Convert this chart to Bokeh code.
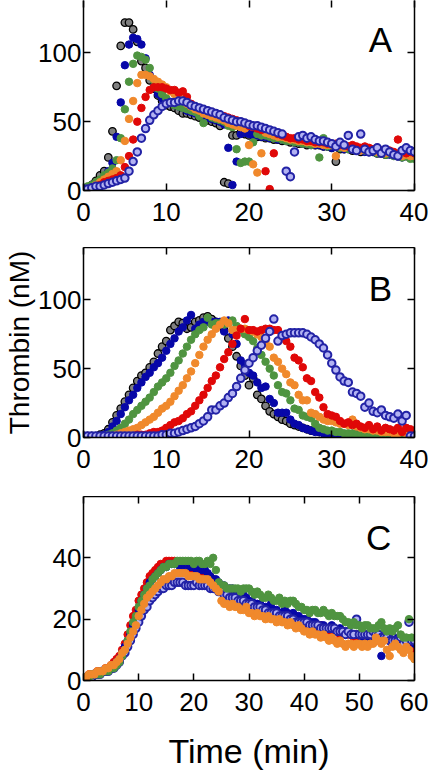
from bokeh.plotting import figure
from bokeh.layouts import column
from bokeh.models import LinearAxis, Range1d, FixedTicker, Label
from bokeh.embed import file_html
from bokeh.resources import INLINE

STEP = 0.5  # sampling interval (min)

# ---------------- Panel A (Thrombin nM, t = 0..40 min) ----------------
a_black = [1, 2, 4, 7, 11, 14, 24, 43, 76, 105,
           122, 122, 117, 108, 94, 89, 80, 74, 69, 65,
           62, 61, 60, 58, 56, 56, 55, 54, 53, 52,
           51, 50, 49, 47, 6, 5, 40, 40, 42, 41,
           40, 40, 39, 39, 38, 38, 37, 37, 36, 36,
           35, 35, 34, 34, 33, 34, 33, 33, 32, 32,
           31, 21, 30, 30, 31, 29, 30, 28, 29, 28,
           28, 27, 27, 26, 27, 26, 25, 26, 25, 26,
           25]
a_blue = [1, 2, 3, 5, 7, 10, 14, 20, 39, 64,
          91, 106, 111, 110, 106, 96, 84, 75, 70, 67,
          66, 64, 62, 61, 60, 58, 57, 56, 55, 54,
          53, 52, 51, 50, 48, 31, 4, 21, 41, 42,
          41, 40, 40, 39, 39, 38, 38, 37, 37, 36,
          36, 35, 35, 34, 34, 33, 33, 33, 32, 32,
          31, 33, 31, 30, 30, 31, 29, 30, 28, 29,
          28, 27, 28, 27, 26, 27, 25, 24, 26, 25,
          24]
a_green = [1, 3, 4, 6, 8, 11, 13, 16, 22, 38,
           59, 79, 92, 98, 97, 95, 89, 80, 74, 70,
           67, 64, 62, 61, 60, 59, 58, 57, 54, 49,
           55, 53, 52, 51, 50, 47, 46, 30, 20, 21,
           21, 35, 41, 40, 40, 39, 38, 38, 37, 36,
           36, 35, 35, 34, 34, 33, 34, 24, 38, 32,
           33, 32, 31, 32, 30, 31, 29, 30, 29, 28,
           29, 27, 28, 26, 27, 25, 26, 24, 25, 23,
           23]
a_orange = [1, 1, 2, 4, 6, 8, 10, 12, 14, 22,
            36, 52, 65, 78, 84, 84, 83, 81, 79, 77,
            75, 72, 70, 68, 66, 63, 61, 59, 58, 56,
            55, 54, 53, 52, 51, 49, 48, 47, 46, 45,
            33, 19, 13, 27, 42, 41, 40, 39, 39, 38,
            37, 37, 36, 36, 35, 35, 34, 34, 33, 33,
            33, 25, 32, 31, 32, 30, 31, 29, 30, 29,
            30, 28, 29, 27, 28, 26, 27, 25, 26, 25,
            25]
a_red = [1, 1, 2, 3, 4, 6, 7, 8, 9, 11,
         17, 25, 37, 50, 60, 68, 73, 75, 75, 75,
         74, 73, 73, 71, 72, 68, 63, 61, 60, 59,
         58, 57, 56, 55, 54, 53, 52, 51, 50, 49,
         47, 46, 45, 44, 14, 1, 27, 41, 40, 39,
         38, 38, 37, 37, 36, 36, 35, 35, 35, 34,
         34, 34, 33, 33, 32, 33, 32, 31, 32, 31,
         30, 31, 29, 30, 29, 28, 37, 29, 27, 28,
         27]
a_purple = [1, 1, 2, 3, 3, 4, 5, 6, 7, 8,
            9, 14, 21, 28, 38, 45, 51, 55, 58, 61,
            63, 64, 64, 65, 65, 64, 62, 61, 60, 59,
            58, 57, 56, 55, 53, 52, 51, 50, 50, 49,
            48, 47, 47, 46, 45, 44, 43, 42, 41, 14,
            10, 28, 39, 40, 38, 39, 37, 36, 36, 35,
            34, 32, 35, 33, 40, 30, 29, 41, 30, 28,
            29, 31, 27, 30, 28, 26, 25, 29, 31, 29,
            28]

# ---------------- Panel B ----------------
b_black = [1, 1, 1, 1, 2, 3, 6, 11, 16, 21,
           26, 31, 36, 41, 45, 47, 51, 55, 61, 66,
           70, 78, 81, 84, 83, 79, 80, 84, 85, 87,
           88, 86, 84, 82, 78, 72, 66, 59, 52, 45,
           38, 43, 31, 28, 23, 19, 17, 15, 13, 12,
           10, 9, 8, 7, 6, 5, 5, 4, 4, 3,
           3, 2, 2, 2, 2, 1, 2, 1, 1, 1,
           1, 1, 1, 1, 1, 1, 1, 1, 1, 1,
           1]
b_blue = [1, 1, 1, 1, 1, 2, 4, 8, 12, 17,
          22, 27, 31, 36, 40, 44, 47, 51, 54, 58,
          63, 68, 72, 77, 80, 85, 89, 79, 82, 84,
          84, 84, 84, 84, 77, 85, 75, 68, 56, 53,
          47, 45, 40, 36, 37, 28, 25, 18, 18, 18,
          13, 10, 9, 7, 6, 5, 4, 4, 3, 2,
          1, 1, 2, 1, 1, 1, 1, 1, 1, 1,
          1, 1, 1, 1, 1, 1, 1, 1, 1, 1,
          1]
b_green = [1, 1, 1, 1, 1, 1, 2, 3, 5, 7,
           10, 13, 17, 20, 23, 26, 29, 33, 37, 40,
           43, 47, 52, 56, 61, 66, 71, 75, 78, 80,
           87, 82, 83, 83, 82, 83, 85, 81, 78, 75,
           73, 70, 65, 60, 55, 50, 45, 38, 33, 32,
           27, 21, 20, 16, 15, 14, 10, 7, 6, 5,
           5, 4, 4, 3, 3, 3, 2, 2, 2, 2,
           2, 1, 2, 1, 1, 1, 1, 1, 1, 1,
           1]
b_orange = [1, 1, 1, 1, 1, 1, 1, 1, 2, 3,
            4, 5, 6, 7, 9, 11, 13, 15, 18, 21,
            23, 26, 30, 34, 38, 43, 48, 54, 60, 66,
            71, 75, 79, 82, 85, 83, 78, 78, 79, 79,
            78, 77, 75, 73, 70, 66, 58, 55, 50, 46,
            40, 38, 31, 27, 27, 18, 17, 15, 13, 12,
            12, 11, 10, 10, 9, 13, 8, 7, 6, 6,
            5, 5, 4, 4, 4, 3, 3, 4, 3, 3,
            3]
b_red = [1, 1, 1, 1, 1, 1, 1, 1, 1, 1,
         1, 1, 1, 2, 2, 2, 3, 4, 4, 5,
         7, 9, 11, 12, 14, 17, 19, 23, 27, 31,
         36, 41, 45, 51, 57, 62, 68, 74, 79, 86,
         78, 78, 77, 78, 79, 79, 78, 78, 74, 70,
         66, 58, 56, 51, 43, 41, 33, 29, 22, 17,
         16, 15, 12, 10, 11, 9, 10, 8, 7, 9,
         6, 8, 5, 7, 6, 5, 7, 4, 7, 6,
         5]
b_purple = [1, 1, 1, 1, 1, 1, 1, 1, 1, 1,
            1, 1, 1, 1, 1, 1, 1, 1, 1, 2,
            2, 3, 3, 4, 5, 6, 7, 8, 10, 12,
            15, 20, 20, 23, 25, 29, 32, 37, 43, 49,
            54, 58, 63, 67, 72, 77, 86, 70, 74, 75,
            76, 76, 76, 76, 75, 73, 71, 68, 65, 60,
            54, 49, 44, 41, 40, 33, 32, 30, 22, 25,
            19, 18, 20, 16, 15, 14, 17, 12, 16, 1,
            1]

# ---------------- Panel C (t = 0..60 min) ----------------
c_red = [1, 1, 2, 2, 2, 3, 3, 3, 4, 4, 5, 6,
         7, 8, 10, 12, 15, 18, 21, 23, 26, 28, 30, 32,
         34, 35, 36, 37, 38, 38, 39, 39, 39, 39, 38, 38,
         37, 37, 37, 36, 37, 36, 36, 35, 35, 34, 33, 33,
         32, 31, 30, 29, 29, 28, 28, 27, 27, 26, 26, 25,
         25, 25, 24, 24, 24, 23, 23, 23, 22, 22, 22, 21,
         21, 21, 20, 21, 20, 20, 19, 19, 19, 18, 18, 18,
         18, 17, 18, 17, 17, 16, 17, 16, 16, 15, 16, 15,
         15, 15, 14, 15, 14, 14, 15, 14, 13, 14, 13, 14,
         13, 14, 15, 13, 12, 13, 12, 13, 12, 12, 11, 11,
         10]
c_blue = [1, 1, 1, 2, 2, 2, 3, 3, 3, 4, 4, 5,
          6, 7, 9, 11, 13, 15, 18, 20, 23, 26, 28, 30,
          32, 33, 34, 35, 36, 37, 37, 38, 38, 38, 38, 37,
          37, 37, 37, 37, 37, 36, 37, 36, 36, 35, 34, 33,
          33, 32, 31, 31, 30, 30, 30, 29, 28, 28, 28, 27,
          26, 26, 25, 25, 25, 24, 24, 23, 25, 23, 23, 22,
          22, 23, 22, 21, 22, 21, 21, 20, 20, 20, 19, 19,
          19, 18, 18, 18, 17, 17, 18, 17, 16, 17, 16, 16,
          16, 15, 15, 15, 15, 14, 15, 14, 14, 15, 14, 15,
          8, 14, 15, 14, 12, 13, 14, 13, 13, 12, 13, 13,
          12]
c_green = [1, 1, 1, 2, 2, 2, 2, 3, 3, 3, 4, 4,
           5, 6, 8, 10, 13, 16, 19, 21, 24, 26, 28, 30,
           31, 33, 34, 35, 36, 37, 37, 38, 38, 38, 39, 39,
           39, 39, 39, 39, 38, 39, 39, 38, 38, 39, 38, 40,
           36, 32, 31, 31, 30, 30, 30, 30, 30, 29, 30, 30,
           30, 29, 28, 29, 28, 27, 27, 28, 27, 26, 26, 27,
           25, 26, 25, 26, 26, 25, 24, 24, 23, 23, 22, 23,
           23, 22, 22, 23, 22, 21, 22, 21, 21, 21, 20, 19,
           19, 18, 19, 18, 18, 17, 18, 18, 17, 17, 17, 18,
           19, 17, 16, 17, 16, 17, 18, 15, 14, 14, 20, 14,
           7]
c_orange = [1, 1, 2, 2, 2, 3, 3, 3, 4, 4, 5, 5,
            6, 7, 9, 10, 12, 14, 16, 18, 21, 23, 25, 27,
            28, 29, 30, 31, 32, 33, 33, 34, 34, 35, 35, 35,
            35, 35, 34, 34, 34, 34, 33, 33, 33, 33, 32, 31,
            30, 29, 26, 25, 25, 24, 25, 24, 24, 23, 23, 24,
            22, 22, 21, 22, 21, 21, 20, 21, 20, 20, 19, 20,
            19, 19, 18, 19, 18, 17, 18, 17, 16, 16, 15, 16,
            15, 15, 14, 15, 14, 13, 14, 13, 12, 13, 12, 11,
            12, 12, 11, 12, 12, 11, 12, 11, 12, 12, 14, 13,
            12, 13, 10, 8, 11, 12, 11, 10, 9, 11, 10, 8,
            7]
c_purple = [1, 1, 1, 1, 2, 2, 2, 3, 3, 3, 4, 4,
            5, 6, 8, 9, 11, 13, 15, 17, 19, 21, 23, 24,
            26, 27, 28, 29, 30, 30, 31, 31, 31, 32, 32, 32,
            32, 31, 31, 31, 31, 32, 31, 31, 31, 31, 30, 30,
            30, 29, 29, 28, 28, 27, 27, 27, 26, 26, 26, 25,
            25, 25, 24, 24, 24, 23, 23, 22, 22, 22, 22, 21,
            21, 21, 21, 20, 20, 19, 19, 19, 19, 19, 18, 18,
            18, 18, 17, 17, 17, 17, 17, 17, 16, 16, 16, 15,
            16, 15, 15, 20, 15, 15, 15, 15, 15, 16, 15, 15,
            14, 14, 14, 13, 13, 13, 13, 14, 12, 13, 19, 13,
            13]

xticks_ab = [0, 10, 20, 30, 40]
xticks_c = [0, 10, 20, 30, 40, 50, 60]
yticks_ab = [0, 50, 100]
yticks_c = [0, 20, 40]

STYLES = {
    "black":  dict(fill_color="#808080", line_color="#000000", line_width=1.3),
    "blue":   dict(fill_color="#0707a8", line_color="#0707a8", line_width=1.0),
    "green":  dict(fill_color="#4f9440", line_color="#4f9440", line_width=1.0),
    "orange": dict(fill_color="#f0892c", line_color="#f0892c", line_width=1.0),
    "red":    dict(fill_color="#e00808", line_color="#e00808", line_width=1.0),
    "purple": dict(fill_color="#b2b2f2", line_color="#2323a6", line_width=2.0),
}

FONT = "Liberation Sans"
TICK_FS = "26px"
LETTER_FS = "35px"
FRAME_W = 331


def style_axis(ax, ticks, show_labels, line=True):
    ax.ticker = FixedTicker(ticks=ticks)
    ax.major_tick_in = 7
    ax.major_tick_out = 0
    ax.minor_tick_line_color = None
    ax.major_tick_line_width = 1.5
    ax.major_tick_line_color = "black"
    ax.axis_line_width = 1.5
    ax.axis_line_color = "black" if line else None
    ax.major_label_text_font = FONT
    if show_labels:
        ax.major_label_text_font_size = TICK_FS
        ax.major_label_text_color = "black"
    else:
        ax.major_label_text_font_size = "1px"
        ax.major_label_text_color = None
        ax.major_label_standoff = 0


def make_panel(xmax, ymax, xticks, yticks, frame_h, bottom, series, letter, lx, ly,
               top_line=True):
    p = figure(frame_width=FRAME_W, frame_height=frame_h,
               x_range=Range1d(0, xmax), y_range=Range1d(0, ymax),
               output_backend="svg", toolbar_location=None,
               min_border_left=83, min_border_right=14,
               min_border_top=0, min_border_bottom=bottom)
    p.grid.visible = False
    p.outline_line_color = None
    p.background_fill_color = "white"
    p.border_fill_color = "white"
    xb = p.below[0]
    yl = p.left[0]
    style_axis(xb, xticks, True)
    xb.major_label_standoff = 12
    style_axis(yl, yticks, True)
    yl.major_label_standoff = 2
    top_ax = LinearAxis()
    style_axis(top_ax, xticks, False, line=top_line)
    p.add_layout(top_ax, "above")
    right_ax = LinearAxis()
    style_axis(right_ax, yticks, False)
    p.add_layout(right_ax, "right")
    for vals, key in series:
        t = [i * STEP for i in range(len(vals))]
        p.scatter(t, vals, marker="circle", size=7.5, **STYLES[key])
    p.add_layout(Label(x=lx, y=ly, text=letter, text_align="right",
                       text_baseline="alphabetic", text_font=FONT,
                       text_font_size=LETTER_FS, text_color="black"))
    return p, xb, yl


pa, _, _ = make_panel(40, 138, xticks_ab, yticks_ab, 190, 57,
                      [(a_black, "black"), (a_blue, "blue"), (a_green, "green"),
                       (a_orange, "orange"), (a_red, "red"), (a_purple, "purple")],
                      "A", 37.3, 110, top_line=False)
pb, _, yb = make_panel(40, 138, xticks_ab, yticks_ab, 190, 59,
                       [(b_black, "black"), (b_blue, "blue"), (b_green, "green"),
                        (b_orange, "orange"), (b_red, "red"), (b_purple, "purple")],
                       "B", 37.3, 108)
yb.axis_label = "Thrombin (nM)"
yb.axis_label_text_font = FONT
yb.axis_label_text_font_size = "28px"
yb.axis_label_text_font_style = "normal"
yb.axis_label_text_color = "black"
yb.axis_label_standoff = 0

pc, xc, _ = make_panel(60, 60, xticks_c, yticks_c, 184, 93,
                       [(c_red, "red"), (c_blue, "blue"), (c_purple, "purple"),
                        (c_green, "green"), (c_orange, "orange")],
                       "C", 55.8, 46.6)
xc.axis_label = "Time (min)"
xc.axis_label_text_font = FONT
xc.axis_label_text_font_size = "34px"
xc.axis_label_text_font_style = "normal"
xc.axis_label_text_color = "black"
xc.axis_label_standoff = 18

layout = column(pa, pb, pc, spacing=0)

with open("out.html", "w") as f:
    f.write(file_html(layout, INLINE))
